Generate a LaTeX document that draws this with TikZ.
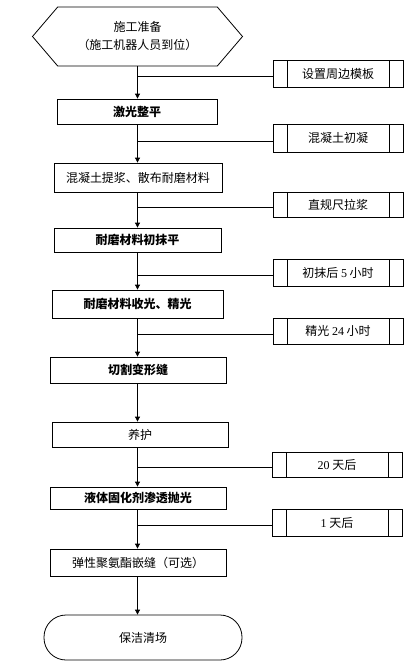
\documentclass[tikz,border=0pt]{standalone}
\usepackage{fontspec}
\setmainfont{Liberation Serif}
\newfontfamily\cjk{Noto Sans CJK SC}
\usetikzlibrary{shapes.symbols,arrows.meta}
\newcommand\nm[1]{{\rmfamily #1}}

\begin{document}
\begin{tikzpicture}[x=1pt,y=-1pt,
    every node/.style={font=\cjk\fontsize{12}{18}\selectfont},
    stepbox/.style={draw,line width=.8pt,minimum height=25pt,inner sep=2pt},
    stepbold/.style={stepbox,font=\cjk\bfseries\fontsize{12}{18}\selectfont},
    sidebox/.style={draw,line width=.8pt,minimum width=130pt,minimum height=26pt,
      path picture={\draw[line width=.8pt]
        ([xshift=14pt]path picture bounding box.north west) -- ([xshift=14pt]path picture bounding box.south west)
        ([xshift=-14pt]path picture bounding box.north east) -- ([xshift=-14pt]path picture bounding box.south east);}},
    flow/.style={line width=.8pt,-{Triangle[length=5pt,width=5pt]}},
    link/.style={line width=.8pt}]
  \useasboundingbox (0,0) rectangle (410,665);
  % Steps
  \node[draw,line width=.8pt,signal,signal to=west and east,signal pointer angle=99,
        minimum width=210pt,minimum height=59pt,align=center] (hex) at (137.5,36.5) {施工准备\\（施工机器人员到位）};
  \node[stepbold,minimum width=160pt] (b1) at (137,111.5) {激光整平};
  \node[stepbox,minimum width=168pt,minimum height=29pt] (b2) at (138,177.5) {混凝土提浆、散布耐磨材料};
  \node[stepbold,minimum width=167pt,minimum height=24pt] (b3) at (137.5,240) {耐磨材料初抹平};
  \node[stepbold,minimum width=171pt,minimum height=28pt] (b4) at (137.5,304) {耐磨材料收光、精光};
  \node[stepbold,minimum width=176pt,minimum height=26pt] (b5) at (138,370) {切割变形缝};
  \node[stepbox,minimum width=176pt] (b6) at (140,434.5) {养护};
  \node[stepbold,minimum width=176pt,minimum height=22pt] (b7) at (138,498) {液体固化剂渗透抛光};
  \node[stepbox,minimum width=176pt,minimum height=27pt] (b8) at (138,562.5) {弹性聚氨酯嵌缝（可选）};
  \node[draw,line width=.8pt,rounded corners=22pt,minimum width=198pt,minimum height=45pt] (end) at (143,637.5) {保洁清场};
  % Side notes
  \node[sidebox,minimum height=27pt] (s1) at (338,73.5) {设置周边模板};
  \node[sidebox,minimum height=28pt] (s2) at (338,138) {混凝土初凝};
  \node[sidebox,minimum height=25pt] (s3) at (338,204.5) {直规尺拉浆};
  \node[sidebox,minimum height=27pt] (s4) at (338,272.5) {初抹后 \nm{5} 小时};
  \node[sidebox] (s5) at (338,331) {精光 \nm{24} 小时};
  \node[sidebox,minimum height=25pt] (s6) at (337,464.5) {\nm{20} 天后};
  \node[sidebox,minimum height=27pt] (s7) at (337,522.5) {\nm{1} 天后};
  % Arrows
  \foreach \a/\b in {hex/b1,b1/b2,b2/b3,b3/b4,b4/b5,b5/b6,b6/b7,b7/b8,b8/end}
    \draw[flow] (hex.south |- \a.south) -- (hex.south |- \b.north);
  \foreach \s in {s1,s2,s3,s4,s5,s6,s7}
    \draw[link] ([yshift=-3pt]\s.west) -- ([yshift=-3pt]\s.west -| hex.south);
\end{tikzpicture}
\end{document}
